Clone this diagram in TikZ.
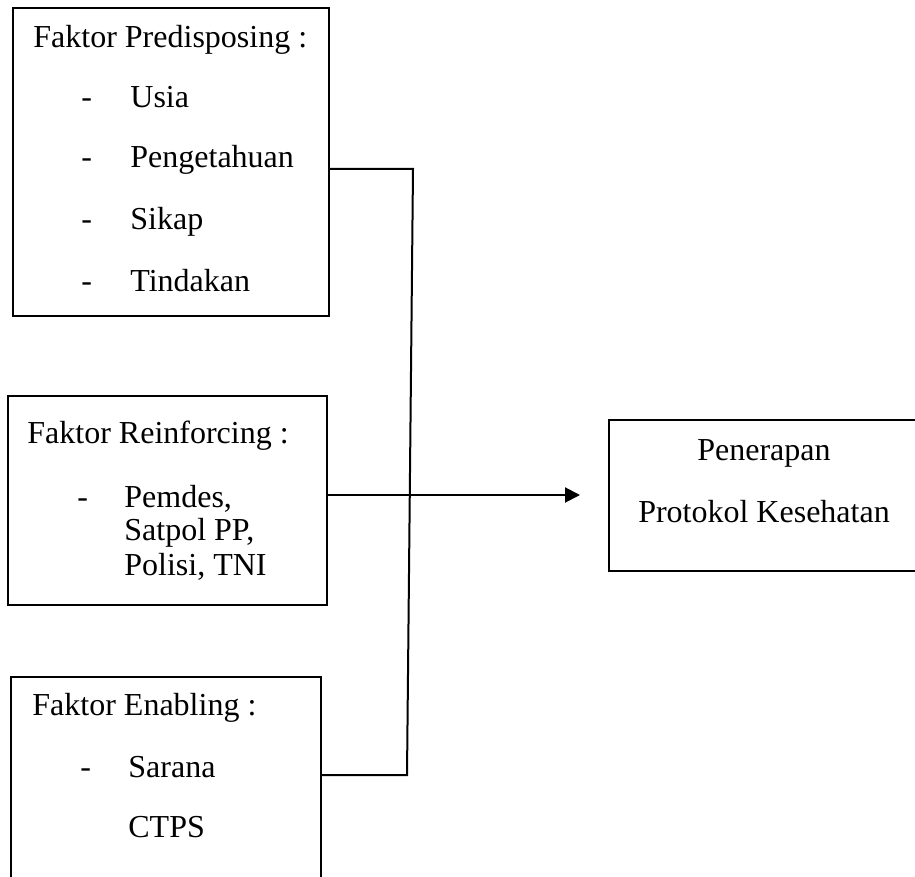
\documentclass[tikz,border=0pt]{standalone}
\usepackage{fontspec}
\setmainfont{Liberation Serif}
\usetikzlibrary{arrows.meta}
\begin{document}
\begin{tikzpicture}[x=0.5pt,y=-0.5pt,
			factor/.style={
				rectangle,
				draw,
				line width=1pt,
				inner sep=0pt,
			},
			txt/.style={
				anchor=base west,
				inner sep=0pt,
				font=\fontsize{16}{19}\selectfont,
			},
			link/.style={
				draw,
				line width=1pt,
			}]
		\useasboundingbox (0,0) rectangle (915,877);
		\clip (0,0) rectangle (915,877);
		% boxes
		\node[factor,minimum width=158pt,minimum height=154pt](pre) at (171,162)   {};
		\node[factor,minimum width=159.5pt,minimum height=104.5pt](rei) at (167.5,500.5) {};
		\node[factor,minimum width=155pt,minimum height=150pt](ena) at (166,827)   {};
		\node[factor,minimum width=155.5pt,minimum height=75.5pt](pen) at (764.5,495.5) {};
		% predisposing
		\node[txt](pret) at (33,48)   {Faktor Predisposing :};
		\node[txt](pred1) at (81,108) {-};
		\node[txt](pre1) at (130,108) {Usia};
		\node[txt](pred2) at (81,168) {-};
		\node[txt](pre2) at (130,168) {Pengetahuan};
		\node[txt](pred3) at (81,230) {-};
		\node[txt](pre3) at (130,230) {Sikap};
		\node[txt](pred4) at (81,292) {-};
		\node[txt](pre4) at (130,292) {Tindakan};
		% reinforcing
		\node[txt](reit) at (27,443)  {Faktor Reinforcing :};
		\node[txt](reid1) at (77,507) {-};
		\node[txt](rei1) at (124,507) {Pemdes,};
		\node[txt](rei2) at (124,540) {Satpol PP,};
		\node[txt](rei3) at (124,575) {Polisi, TNI};
		% enabling
		\node[txt](enat) at (32,715)  {Faktor Enabling :};
		\node[txt](enad1) at (80,777) {-};
		\node[txt](ena1) at (128,777) {Sarana};
		\node[txt](ena2) at (128,837) {CTPS};
		% outcome
		\node[txt,anchor=base](pen1) at (764,460) {Penerapan};
		\node[txt,anchor=base](pen2) at (764,522) {Protokol Kesehatan};
		% connectors
		\coordinate(jt) at (413,169);
		\coordinate(jb) at (407,775);
		\coordinate(tip) at (580,495);
		\draw[link] (pre.east |- jt) -- (jt) -- (jb) -- (ena.east |- jb);
		\draw[link,-{Triangle[length=7.5pt,width=7.5pt]}] (rei.east |- tip) -- (tip);
	\end{tikzpicture}
\end{document}
